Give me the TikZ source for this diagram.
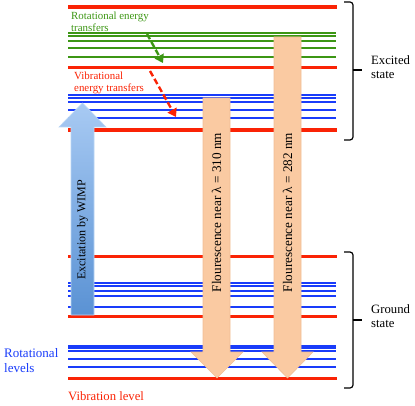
\documentclass[tikz,border=0pt]{standalone}
\usepackage{fontspec}
\setmainfont{Liberation Serif}
\usetikzlibrary{arrows.meta}
\definecolor{lvlred}{RGB}{250,35,5}
\definecolor{lvlblue}{RGB}{25,60,250}
\definecolor{lvlgreen}{RGB}{60,150,20}
\definecolor{peach}{RGB}{250,202,162}
\definecolor{peachedge}{RGB}{240,190,150}
\definecolor{wimptop}{RGB}{168,202,243}
\definecolor{wimpbot}{RGB}{90,146,212}
\begin{document}
\begin{tikzpicture}[x=1pt,y=-1pt,
  redlvl/.style={draw=lvlred,line width=3.5pt},
  bluelvl/.style={draw=lvlblue,line width=2pt},
  greenlvl/.style={draw=lvlgreen,line width=2pt},
  fluor/.style={fill=peach,draw=peachedge,line width=0.6pt},
  shadowfl/.style={fill=black!12},
  wimp/.style={top color=wimptop,bottom color=wimpbot,draw=wimptop!80!white,line width=0.6pt},
  lbl/.style={font=\fontsize{12.7}{14}\selectfont,align=left,inner sep=0pt},
  smalllbl/.style={font=\fontsize{10.9}{11.8}\selectfont,align=left,inner sep=0pt},
  brace/.style={draw=black,line width=1.2pt,rounded corners=3pt},
  transfer/.style={line width=2.4pt,dash pattern=on 6pt off 3pt,-{Triangle[length=8pt,width=10pt]}}
]
\useasboundingbox (0,0) rectangle (415,406);
% vibration levels (red)
\foreach \y in {7,67.7,130,256.7,316.7,378.5}
  \draw[redlvl] (68,\y) -- (337,\y);
% rotational levels excited (green)
\foreach \y in {33.5,35.8,41.3,47.7,57}
  \draw[greenlvl] (68,\y) -- (336,\y);
% rotational levels excited (blue)
\foreach \y in {95.5,98.5,102.5,110,117.7}
  \draw[bluelvl] (68,\y) -- (336,\y);
% rotational levels ground
\foreach \y in {283.3,286,290.7,296,306.7,346,348.3,350.7,359,367.3}
  \draw[bluelvl] (68,\y) -- (336,\y);
% transfer arrows
\coordinate (g1) at (147,34);
\coordinate (g2) at (163,63);
\coordinate (r1) at (150,71);
\coordinate (r2) at (176,117);
\draw[transfer,lvlgreen] (g1) -- (g2);
\draw[transfer,lvlred] (r1) -- (r2);
% excitation arrow
\path[wimp] (71,315) -- (71,127) -- (59,127) -- (82.5,103) -- (106,127) -- (94,127) -- (94,315) -- cycle;
\node[font=\fontsize{12}{14}\selectfont,inner sep=0pt,rotate=90] (exc) at (82.5,230) {Excitation by WIMP};
% fluorescence arrows
\path[fluor] (203,98) -- (230,98) -- (230,352) -- (243,352) -- (217,378) -- (191,352) -- (203,352) -- cycle;
\path[fluor] (274,37) -- (301,37) -- (301,352) -- (313,352) -- (287.5,378) -- (262,352) -- (274,352) -- cycle;
\node[font=\fontsize{13.2}{15}\selectfont,inner sep=0pt,rotate=90] (f1) at (216.5,212.5) {Flourescence near λ = 310 nm};
\node[font=\fontsize{13.2}{15}\selectfont,inner sep=0pt,rotate=90] (f2) at (287.5,212.5) {Flourescence near λ = 282 nm};
% braces
\draw[brace] (344,2) -- (353,2) -- (353,140) -- (344,140);
\draw[line width=1.2pt] (353,70) -- (362,70);
\draw[brace] (344,252) -- (353,252) -- (353,388) -- (344,388);
\draw[line width=1.2pt] (353,320) -- (362,320);
% labels
\node[lbl,anchor=west] (exs) at (371,67) {Excited\\state};
\node[lbl,anchor=west] (gds) at (371,316.5) {Ground\\state};
\node[lbl,anchor=west,text=lvlblue,font=\fontsize{13}{15}\selectfont] (rotl) at (4,360.5) {Rotational\\levels};
\node[lbl,anchor=west,text=lvlred] (vibl) at (68,396) {Vibration level};
\node[smalllbl,anchor=west,text=lvlgreen] (rott) at (71,21.5) {Rotational energy\\transfers};
\node[smalllbl,anchor=west,text=lvlred] (vibt) at (74,83) {Vibrational\\energy transfers};
\end{tikzpicture}
\end{document}
